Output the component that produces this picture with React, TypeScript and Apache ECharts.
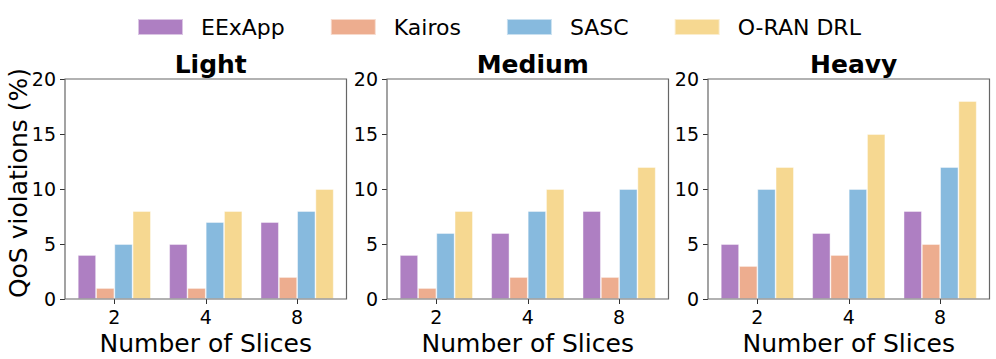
import React, { useEffect, useRef } from "react";
import * as echarts from "echarts";

const categories = ["2", "4", "8"];
const seriesNames = ["EExApp", "Kairos", "SASC", "O-RAN DRL"];
const panelTitles = ["Light", "Medium", "Heavy"];

const lightEExApp = [4, 5, 7];
const lightKairos = [1, 1, 2];
const lightSASC = [5, 7, 8];
const lightORAN = [8, 8, 10];

const mediumEExApp = [4, 6, 8];
const mediumKairos = [1, 2, 2];
const mediumSASC = [6, 8, 10];
const mediumORAN = [8, 10, 12];

const heavyEExApp = [5, 6, 8];
const heavyKairos = [3, 4, 5];
const heavySASC = [10, 10, 12];
const heavyORAN = [12, 15, 18];

const yTicksMax = 20;
const yTicksStep = 5;

const panelData = [
  [lightEExApp, lightKairos, lightSASC, lightORAN],
  [mediumEExApp, mediumKairos, mediumSASC, mediumORAN],
  [heavyEExApp, heavyKairos, heavySASC, heavyORAN],
];

const colors = ["#AE7FC2", "#EDAD8F", "#87BADE", "#F6D891"];
const FONT = "DejaVu Sans";

// layout (pixels)
const frameLefts = [65, 387, 708];
const frameWidth = 281.5;
const frameTop = 79;
const frameHeight = 220;
const inset = frameWidth * 0.04 / 3.08;

export default function App() {
  const ref = useRef<HTMLDivElement>(null);
  useEffect(() => {
    if (!ref.current) return;
    const chart = echarts.init(ref.current, null, { renderer: "svg" });
    const grids: any[] = [];
    const xAxes: any[] = [];
    const yAxes: any[] = [];
    const series: any[] = [];
    const titles: any[] = [];
    const graphics: any[] = [];
    frameLefts.forEach((fl, i) => {
      grids.push({
        left: fl + inset,
        top: frameTop,
        width: frameWidth - 2 * inset,
        height: frameHeight,
        containLabel: false,
        outerBoundsMode: "none",
      });
      xAxes.push({
        type: "category",
        gridIndex: i,
        data: categories,
        axisLine: { show: false },
        axisTick: { show: true, alignWithLabel: true, length: 5, lineStyle: { color: "#333" } },
        axisLabel: { fontSize: 19, color: "#000", margin: 8, fontFamily: FONT },
        name: "Number of Slices",
        nameLocation: "middle",
        nameGap: 21,
        nameTextStyle: { fontSize: 25, color: "#000", fontFamily: FONT },
      });
      yAxes.push({
        type: "value",
        gridIndex: i,
        min: 0,
        max: yTicksMax,
        interval: yTicksStep,
        offset: inset,
        axisLine: { show: false },
        axisTick: { show: true, length: 5, lineStyle: { color: "#333" } },
        axisLabel: { fontSize: 19, color: "#000", margin: 9, fontFamily: FONT },
        splitLine: { show: false },
      });
      panelData[i].forEach((vals, k) => {
        series.push({
          type: "bar",
          name: seriesNames[k],
          xAxisIndex: i,
          yAxisIndex: i,
          data: vals,
          barWidth: "20%",
          barGap: "0%",
          itemStyle: {
            color: colors[k],
            borderColor: "rgba(255,255,255,0.55)",
            borderWidth: 0.8,
          },
        });
      });
      titles.push({
        text: panelTitles[i],
        left: fl + frameWidth / 2,
        textAlign: "center",
        top: 47,
        textStyle: { fontSize: 25, fontWeight: "bold", color: "#000", fontFamily: FONT },
      });
      graphics.push({
        type: "rect",
        shape: { x: fl, y: frameTop, width: frameWidth, height: frameHeight },
        style: { fill: "none", stroke: "#666", lineWidth: 1.2 },
        z: 10,
      });
    });
    graphics.push({
      type: "text",
      x: 18.5,
      y: 183,
      rotation: Math.PI / 2,
      style: {
        text: "QoS violations (%)",
        fontSize: 25,
        fontFamily: FONT,
        fill: "#000",
        align: "center",
        verticalAlign: "middle",
      },
    });
    chart.setOption({
      animation: false,
      textStyle: { fontFamily: FONT },
      title: titles,
      legend: {
        data: seriesNames,
        left: 132,
        top: 11,
        itemWidth: 45,
        itemHeight: 16,
        itemGap: 45,
        icon: "rect",
        selectedMode: false,
        textStyle: { fontSize: 22, color: "#000", fontFamily: FONT, padding: [0, 0, 0, 13] },
      },
      grid: grids,
      xAxis: xAxes,
      yAxis: yAxes,
      series,
      graphic: graphics,
    });
    return () => chart.dispose();
  }, []);
  return (
    <div
      ref={ref}
      style={{ position: "fixed", left: 0, top: 0, width: 996, height: 359, background: "#fff" }}
    />
  );
}
